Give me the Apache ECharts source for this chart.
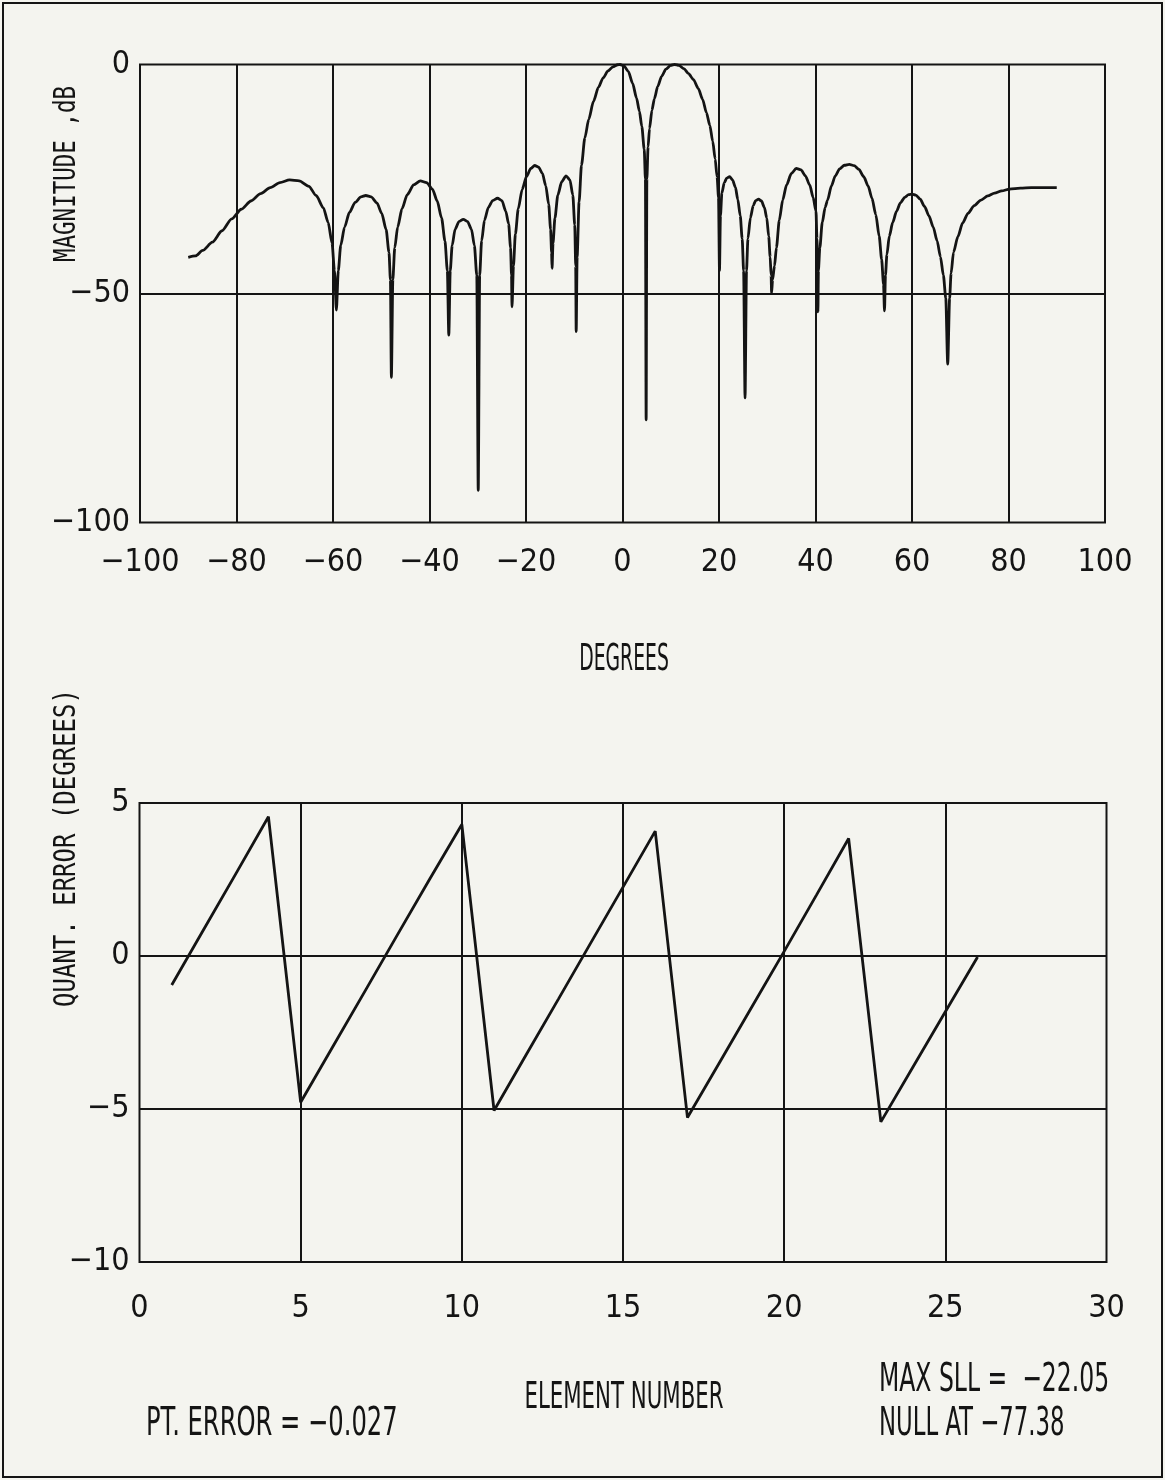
<!DOCTYPE html>
<html>
<head>
<meta charset="utf-8">
<script src="https://cdn.jsdelivr.net/npm/echarts@6/dist/echarts.min.js"></script>
<style>
html,body{margin:0;padding:0;background:#f4f4ef;}
#chart{width:1165px;height:1480px;}
</style>
</head>
<body>
<div id="chart"></div>
<script>
// ---- Top chart: array pattern (degrees vs magnitude dB) ----
const patternDeg = [
  -90, -88.5, -87, -85, -83, -81, -79, -77, -75, -73, -71, -69, -67, -65, -63.5, -62, -61, -60.2, -59.7, -59.3,
  -58.9, -58.4, -57.6, -56.6, -55.4, -54.2, -53.2, -52.1, -50.9, -49.9, -49.0, -48.4, -48.1, -47.9,
  -47.6, -47.2, -46.6, -45.7, -44.6, -43.3, -41.9, -40.6, -39.4, -38.4, -37.5, -36.8, -36.3, -36.0,
  -35.7, -35.3, -34.7, -33.9, -33.0, -32.1, -31.3, -30.7, -30.2, -29.9,
  -29.6, -29.2, -28.6, -27.8, -26.9, -25.9, -25.0, -24.2, -23.6, -23.2, -23.0, -22.9,
  -22.6, -22.2, -21.6, -20.8, -19.9, -19.0, -18.2, -17.4, -16.6, -15.9, -15.3, -14.9, -14.7, -14.6,
  -14.4, -14.0, -13.4, -12.6, -11.7, -10.9, -10.3, -9.9, -9.7, -9.6,
  -9.4, -9.0, -8.5, -7.8, -7.0, -6.0, -5.0, -4.0, -3.0, -2.0, -1.0, -0.5,
  0.3, 1.2, 2.1, 2.9, 3.5, 4.0, 4.5, 4.75, 4.9,
  5.05, 5.3, 5.6, 6.1, 6.6, 7.3, 8.1, 9.0, 10.0, 10.8, 11.7, 12.7, 13.7, 14.7, 15.7, 16.6, 17.4, 18.1, 18.7, 19.2, 19.6, 19.9, 20.1,
  20.3, 20.6, 21.1, 21.6, 22.2, 22.8, 23.4, 23.9, 24.4, 24.8, 25.1, 25.4,
  25.7, 26.0, 26.5, 27.1, 27.6, 28.2, 28.8, 29.4, 29.9, 30.3, 30.6, 30.8, 30.9,
  31.1, 31.5, 31.9, 32.5, 33.2, 34.0, 35.0, 36.0, 37.0, 37.9, 38.8, 39.5, 40.1, 40.3, 40.45, 40.5,
  40.6, 40.9, 41.4, 42.0, 42.5, 43.3, 44.1, 45.0, 46.0, 47.0, 48.0, 49.0, 50.0, 50.9, 51.7, 52.5, 53.2, 53.7, 54.1, 54.3,
  54.5, 54.8, 55.3, 56.0, 56.8, 57.6, 58.5, 59.3, 60.0, 60.8, 61.7, 62.6, 63.5, 64.4, 65.2, 65.9, 66.5, 67.0, 67.4,
  67.8, 68.1, 68.6, 69.5, 70.5, 71.6, 72.9, 74.3, 75.7, 77.1, 78.6, 80.2, 82.5, 84.7, 87.5, 90
];
const patternDb = [
  -42.1, -41.8, -40.6, -38.8, -36.3, -33.7, -31.6, -29.8, -28.2, -26.9, -25.8, -25.2, -25.4, -26.6, -28.6, -31.3, -34.5, -39.0, -45.0, -53.6,
  -45.0, -39.5, -35.5, -32.3, -30.1, -28.9, -28.6, -28.9, -30.2, -32.5, -36.0, -41.0, -47.0, -68.3,
  -47.0, -40.0, -35.5, -31.5, -28.4, -26.3, -25.4, -25.8, -27.2, -29.8, -33.5, -38.5, -45.0, -59.1,
  -45.0, -39.5, -36.0, -34.3, -33.8, -34.3, -36.0, -39.5, -46.0, -93.0,
  -46.0, -38.5, -34.0, -31.2, -29.7, -29.2, -29.7, -32.0, -34.8, -40.0, -46.0, -52.9,
  -44.0, -37.0, -31.5, -27.3, -24.5, -22.7, -22.05, -22.4, -23.8, -26.5, -30.5, -36.0, -41.0, -44.5,
  -39.0, -33.5, -28.5, -25.6, -24.3, -25.2, -28.5, -35.0, -44.0, -58.3,
  -42.0, -30.0, -22.0, -16.0, -12.0, -8.0, -5.0, -2.9, -1.4, -0.5, -0.05, 0,
  -0.3, -1.5, -4.1, -7.3, -10.2, -13.5, -18.5, -25.0, -77.6,
  -25.0, -18.0, -14.0, -10.0, -7.5, -4.8, -2.6, -1.0, -0.2, 0, -0.2, -0.9, -2.0, -3.3, -5.2, -7.6, -10.5, -13.3, -16.8, -20.6, -24.5, -29.0, -45.0,
  -33.0, -28.0, -25.8, -24.8, -24.5, -25.2, -26.8, -29.5, -33.0, -38.0, -45.0, -72.8,
  -45.0, -38.0, -33.5, -30.8, -29.7, -29.4, -29.8, -31.2, -33.5, -37.5, -42.0, -46.0, -49.9,
  -47.0, -44.0, -40.0, -34.0, -29.6, -26.3, -23.8, -22.7, -23.0, -24.3, -26.3, -29.0, -32.0, -38.0, -45.0, -54.0,
  -45.0, -40.0, -34.5, -31.2, -29.6, -26.5, -24.3, -22.8, -22.0, -21.8, -22.1, -22.9, -24.5, -26.5, -29.2, -32.8, -37.5, -42.5, -48.0, -53.8,
  -46.0, -41.5, -37.5, -34.5, -32.0, -30.2, -29.0, -28.4, -28.3, -28.5, -29.4, -31.0, -33.0, -35.5, -38.5, -42.0, -46.0, -51.0, -65.4,
  -51.0, -45.6, -41.0, -37.6, -34.6, -32.5, -30.8, -29.6, -28.7, -28.1, -27.6, -27.2, -27.0, -26.9, -26.9, -26.9
];

// ---- Bottom chart: quantization error per element ----
const elementNo = [1,2,3,4,5,6,7,8,9,10,11,12,13,14,15,16,17,18,19,20,21,22,23,24,25,26];
const quantErr = [
  -0.95, 0.88, 2.71, 4.55, -4.78, -2.96, -1.14, 0.69, 2.51, 4.30,
  -5.05, -3.22, -1.40, 0.43, 2.25, 4.08, -5.28, -3.47, -1.66, 0.15,
  1.99, 3.84, -5.42, -3.62, -1.82, -0.03
];

// ---- Axis ranges / tick steps ----
const topX = {min: -100, max: 100, step: 20};
const topY = {min: -100, max: 0, step: 50};
const botX = {min: 0, max: 30, step: 5};
const botY = {min: -10, max: 5, step: 5};

// ---- Text ----
const topYTitle = 'MAGNITUDE ,dB';
const topXTitle = 'DEGREES';
const botYTitle = 'QUANT. ERROR (DEGREES)';
const botXTitle = 'ELEMENT NUMBER';
const noteLeft = 'PT. ERROR = \u22120.027';
const noteRight1 = 'MAX SLL =  \u221222.05';
const noteRight2 = 'NULL AT \u221277.38';

const INK = '#141414';
const NARROW = '"DejaVu Sans Condensed", "Liberation Sans", sans-serif';
const MONO = '"DejaVu Sans Mono", "Liberation Mono", monospace';

const patternData = patternDeg.map((d, i) => [d, patternDb[i]]);
const errData = elementNo.map((e, i) => [e, quantErr[i]]);

const fmt = v => String(v).replace('-', '\u2212');
function axisCommon(r, labelMargin) {
  return {
    type: 'value', min: r.min, max: r.max, interval: r.step,
    axisLine: {show: false}, axisTick: {show: false},
    splitLine: {show: true, showMinLine: false, showMaxLine: false, lineStyle: {color: INK, width: 2}},
    axisLabel: {formatter: fmt, fontFamily: NARROW, fontSize: 32, color: INK, margin: labelMargin}
  };
}

const chart = echarts.init(document.getElementById('chart'), null, {renderer: 'canvas'});
chart.setOption({
  animation: false,
  backgroundColor: '#f4f4ef',
  grid: [
    {left: 140, top: 64.5, width: 965, height: 458, show: true, borderColor: INK, borderWidth: 2, backgroundColor: 'transparent'},
    {left: 139.5, top: 803, width: 967, height: 459, show: true, borderColor: INK, borderWidth: 2, backgroundColor: 'transparent'}
  ],
  xAxis: [
    Object.assign(axisCommon(topX, 24), {gridIndex: 0}),
    Object.assign(axisCommon(botX, 31), {gridIndex: 1})
  ],
  yAxis: [
    Object.assign(axisCommon(topY, 10), {gridIndex: 0}),
    Object.assign(axisCommon(botY, 10), {gridIndex: 1})
  ],
  series: [
    {type: 'line', xAxisIndex: 0, yAxisIndex: 0, data: patternData, symbol: 'none',
     smooth: 0.25, smoothMonotone: 'x', lineStyle: {color: INK, width: 2.8}},
    {type: 'line', xAxisIndex: 1, yAxisIndex: 1, data: errData, symbol: 'none',
     lineStyle: {color: INK, width: 2.8}}
  ],
  graphic: [
    {type: 'rect', silent: true, shape: {x: 3, y: 3, width: 1159, height: 1474},
     style: {fill: 'none', stroke: INK, lineWidth: 2}},
    {type: 'text', x: 67, y: 174, rotation: Math.PI / 2, scaleX: 0.75,
     style: {text: topYTitle, font: '30px ' + MONO, fill: INK, textAlign: 'center', textVerticalAlign: 'middle'}},
    {type: 'text', x: 67, y: 848, rotation: Math.PI / 2, scaleX: 0.8,
     style: {text: botYTitle, font: '30px ' + MONO, fill: INK, textAlign: 'center', textVerticalAlign: 'middle'}},
    {type: 'text', x: 624, y: 660, scaleX: 0.55,
     style: {text: topXTitle, font: '38px ' + NARROW, fill: INK, textAlign: 'center', textVerticalAlign: 'middle'}},
    {type: 'text', x: 624, y: 1398, scaleX: 0.64,
     style: {text: botXTitle, font: '37px ' + NARROW, fill: INK, textAlign: 'center', textVerticalAlign: 'middle'}},
    {type: 'text', x: 146, y: 1425, scaleX: 0.69,
     style: {text: noteLeft, font: '39px ' + NARROW, fill: INK, textAlign: 'left', textVerticalAlign: 'middle'}},
    {type: 'text', x: 879, y: 1381, scaleX: 0.67,
     style: {text: noteRight1, font: '39px ' + NARROW, fill: INK, textAlign: 'left', textVerticalAlign: 'middle'}},
    {type: 'text', x: 879, y: 1425, scaleX: 0.65,
     style: {text: noteRight2, font: '39px ' + NARROW, fill: INK, textAlign: 'left', textVerticalAlign: 'middle'}}
  ]
});
</script>
</body>
</html>
